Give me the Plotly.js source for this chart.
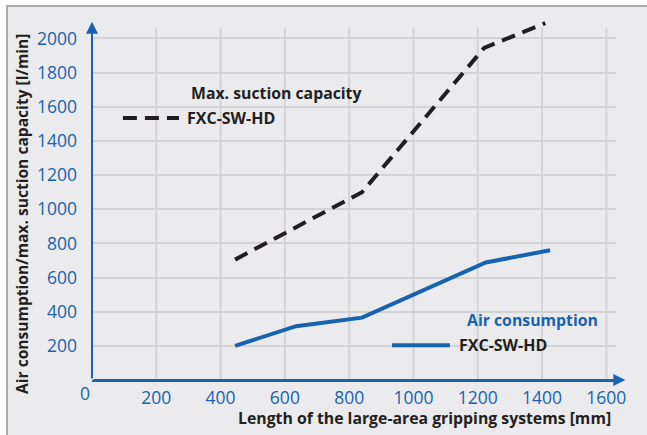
<!DOCTYPE html>
<html>
<head>
<meta charset="utf-8">
<script src="https://cdn.plot.ly/plotly-3.0.1.min.js"></script>
<style>
html,body{margin:0;padding:0;background:#ffffff;}
#bg{position:absolute;left:6px;top:5px;width:641px;height:430px;background:#ebebed;border-top:2px solid #a9a9ab;border-left:2px solid #a9a9ab;box-sizing:border-box;}
#chart{position:absolute;left:0;top:0;width:647px;height:435px;}
</style>
</head>
<body>
<div id="bg"></div>
<div id="chart"></div>
<script>
// Data
const suctionLength = [445, 840, 1220, 1410];
const suctionCapacity = [705, 1100, 1945, 2090];
const airLength = [445, 635, 840, 1225, 1425];
const airConsumption = [200, 315, 365, 688, 760];
const xTicks = [200, 400, 600, 800, 1000, 1200, 1400, 1600];
const yTicks = [200, 400, 600, 800, 1000, 1200, 1400, 1600, 1800, 2000];
const seriesName = "FXC-SW-HD";

const BLUE = "#1763b0";
const DARK = "#231f20";
const GRID = "#d3d3d5";
const FONT = "Open Sans, sans-serif";
const X_MAX = 1630, Y_GRID_TOP = 2063, Y_MAX = 2120;

const traces = [
  {x: suctionLength, y: suctionCapacity, mode: "lines", name: "Max. suction capacity " + seriesName,
   line: {color: DARK, width: 4, dash: "14px,8px"}, hoverinfo: "skip"},
  {x: airLength, y: airConsumption, mode: "lines", name: "Air consumption " + seriesName,
   line: {color: BLUE, width: 4}, hoverinfo: "skip"}
];

// vertical grid lines limited to the grid area
const gridShapes = xTicks.map(v => ({type: "line", xref: "x", yref: "y", x0: v, x1: v, y0: 0, y1: Y_GRID_TOP,
  line: {color: GRID, width: 2}, layer: "below"}));

const layout = {
  width: 647, height: 435,
  paper_bgcolor: "rgba(0,0,0,0)", plot_bgcolor: "rgba(0,0,0,0)",
  margin: {l: 92, r: 31, t: 18.2, b: 55},
  showlegend: false,
  font: {family: FONT},
  xaxis: {
    range: [0, X_MAX], tickvals: xTicks, ticktext: xTicks.map(String),
    showgrid: false,
    zeroline: false, showline: true, linecolor: BLUE, linewidth: 2,
    ticks: "", ticklabelstandoff: 1,
    tickfont: {family: FONT, size: 17.5, color: BLUE}, fixedrange: true
  },
  yaxis: {
    range: [0, Y_MAX], tickvals: yTicks, ticktext: yTicks.map(String),
    showgrid: true, gridcolor: GRID, gridwidth: 2,
    zeroline: false, showline: false,
    ticks: "", ticklabelstandoff: 14,
    tickfont: {family: FONT, size: 17.5, color: BLUE}, fixedrange: true
  },
  shapes: gridShapes.concat([
    {type: "line", xref: "paper", yref: "paper", x0: 0.059, x1: 0.166, y0: 0.724, y1: 0.724,
     line: {color: DARK, width: 4, dash: "14px,8px"}},
    {type: "line", xref: "paper", yref: "paper", x0: 0.5725, x1: 0.683, y0: 0.096, y1: 0.096,
     line: {color: BLUE, width: 4}}
  ]),
  annotations: [
    {xref: "paper", yref: "paper", x: 0.185, y: 0.793, xanchor: "left", yanchor: "middle", showarrow: false,
     text: "<b>Max. suction capacity</b>", font: {family: FONT, size: 15.8, color: DARK}},
    {xref: "paper", yref: "paper", x: 0.1775, y: 0.724, xanchor: "left", yanchor: "middle", showarrow: false,
     text: "<b>" + seriesName + "</b>", font: {family: FONT, size: 16, color: DARK}},
    {xref: "paper", yref: "paper", x: 0.712, y: 0.165, xanchor: "left", yanchor: "middle", showarrow: false,
     text: "<b>Air consumption</b>", font: {family: FONT, size: 15.8, color: BLUE}},
    {xref: "paper", yref: "paper", x: 0.6966, y: 0.096, xanchor: "left", yanchor: "middle", showarrow: false,
     text: "<b>" + seriesName + "</b>", font: {family: FONT, size: 16, color: DARK}},
    // zero label
    {xref: "paper", yref: "paper", x: -0.0134, y: -0.037, xanchor: "center", yanchor: "middle", showarrow: false,
     text: "0", font: {family: FONT, size: 17.5, color: BLUE}},
    // axis titles
    {xref: "paper", yref: "paper", x: 0.634, y: -0.106, xanchor: "center", yanchor: "middle", showarrow: false,
     text: "<b>Length of the large-area gripping systems [mm]</b>", font: {family: FONT, size: 15.8, color: DARK}},
    {xref: "paper", yref: "paper", x: -0.134, y: 0.458, xanchor: "center", yanchor: "middle", showarrow: false,
     textangle: -90,
     text: "<b>Air consumption/max. suction capacity [l/min]</b>", font: {family: FONT, size: 15.6, color: DARK}},
    // axis lines with arrows
    {xref: "x", yref: "y", x: 1659, y: 0, ax: 0, ay: 0, axref: "x", ayref: "y",
     showarrow: true, arrowhead: 2, arrowsize: 1.2, arrowwidth: 2, arrowcolor: BLUE, text: "", standoff: 0},
    {xref: "x", yref: "y", x: 0, y: 2098, ax: 0, ay: 0, axref: "x", ayref: "y",
     showarrow: true, arrowhead: 2, arrowsize: 1.2, arrowwidth: 2, arrowcolor: BLUE, text: "", standoff: 0}
  ]
};

Plotly.newPlot("chart", traces, layout, {staticPlot: true, displayModeBar: false});
</script>
</body>
</html>
